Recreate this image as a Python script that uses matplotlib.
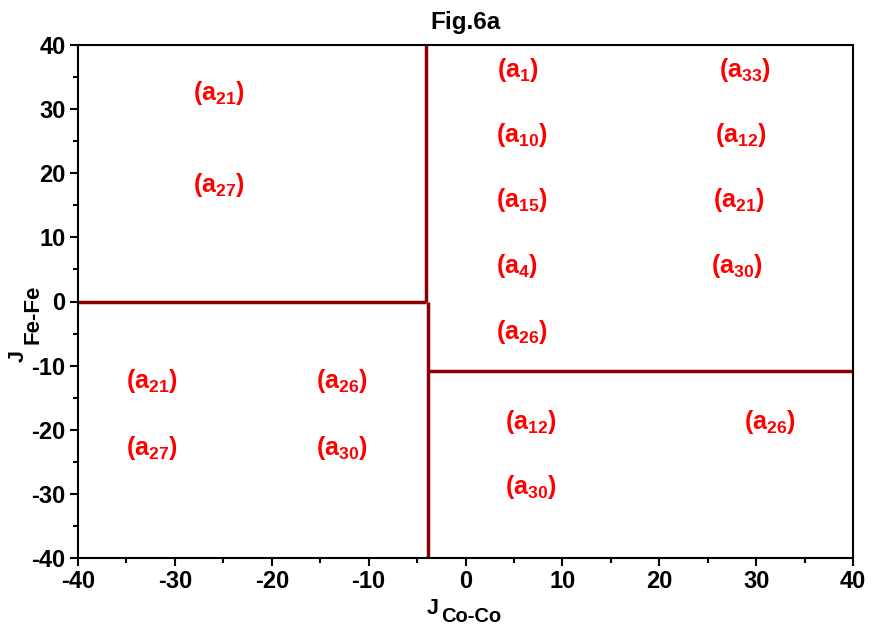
import matplotlib
matplotlib.use("Agg")
import matplotlib.pyplot as plt

plt.rcParams['font.family'] = ['Liberation Sans', 'DejaVu Sans']
plt.rcParams['font.weight'] = 'bold'
plt.rcParams['axes.unicode_minus'] = False
plt.rcParams['mathtext.fontset'] = 'custom'
plt.rcParams['mathtext.rm'] = 'Liberation Sans:bold'
plt.rcParams['mathtext.bf'] = 'Liberation Sans:bold'
plt.rcParams['mathtext.it'] = 'Liberation Sans:bold'
plt.rcParams['mathtext.default'] = 'bf'

# phase boundary lines (x, y pairs)
boundary_up_x = [-4.1, -4.1]
boundary_up_y = [40, 0]
boundary_left_x = [-40, -4.1]
boundary_left_y = [0, 0]
boundary_down_x = [-3.9, -3.9]
boundary_down_y = [0, -40]
boundary_right_x = [-3.9, 40]
boundary_right_y = [-10.8, -10.8]

# region labels
label_names = ["21", "27",
               "1", "10", "15", "4", "26",
               "33", "12", "21", "30",
               "21", "26", "27", "30",
               "12", "26", "30"]
label_x = [-25.5, -25.5,
           5.4, 5.8, 5.8, 5.3, 5.8,
           28.8, 28.4, 28.2, 28.0,
           -32.4, -12.8, -32.4, -12.8,
           6.7, 31.4, 6.7]
label_y = [32.5, 18.2,
           36.1, 26.0, 15.8, 5.5, -4.8,
           36.1, 26.0, 15.8, 5.5,
           -12.4, -12.4, -22.9, -22.9,
           -18.8, -18.8, -29.0]

W, H = 872, 626
fig = plt.figure(figsize=(W / 100, H / 100), dpi=100)
ax = fig.add_axes([78 / W, 1 - 558 / H, (853 - 78) / W, (558 - 45) / H])

line_col = '#8b0000'
for xs, ys in [(boundary_up_x, boundary_up_y), (boundary_left_x, boundary_left_y),
               (boundary_down_x, boundary_down_y), (boundary_right_x, boundary_right_y)]:
    ax.plot(xs, ys, color=line_col, linewidth=2.5, solid_capstyle='butt')

for n, x, y in zip(label_names, label_x, label_y):
    ax.text(x, y, '(a$_{' + n + '}$)', color='red', fontsize=18,
            fontweight='bold', ha='center', va='center')

ax.set_xlim(-40, 40)
ax.set_ylim(-40, 40)
ax.set_xticks(range(-40, 41, 10))
ax.set_yticks(range(-40, 41, 10))
ax.set_xticks(range(-35, 40, 10), minor=True)
ax.set_yticks(range(-35, 40, 10), minor=True)
ax.tick_params(which='major', direction='out', length=6, width=1.5,
               labelsize=17, pad=3)
ax.tick_params(which='minor', direction='out', length=3.5, width=1.5)
for lab in ax.get_xticklabels() + ax.get_yticklabels():
    lab.set_fontweight('bold')
for s in ax.spines.values():
    s.set_linewidth(1.5)

# axis labels with large subscripts, placed by hand
fig.text(427 / W, 1 - 614 / H, 'J', fontsize=15.5, fontweight='bold',
         ha='left', va='baseline')
fig.text(441 / W, 1 - 622 / H, 'Co-Co', fontsize=14.5, fontweight='bold',
         ha='left', va='baseline')
fig.text(24 / W, 1 - 362 / H, 'J', fontsize=15.5, fontweight='bold',
         ha='left', va='baseline', rotation=90, rotation_mode='anchor')
fig.text(38 / W, 1 - 344 / H, 'Fe-Fe', fontsize=16, fontweight='bold',
         ha='left', va='baseline', rotation=90, rotation_mode='anchor')
fig.text(0.5 * (78 + 853) / W, 1 - 29 / H, 'Fig.6a', fontsize=17.5,
         fontweight='bold', ha='center', va='baseline')

fig.savefig('out.png', dpi=100)
